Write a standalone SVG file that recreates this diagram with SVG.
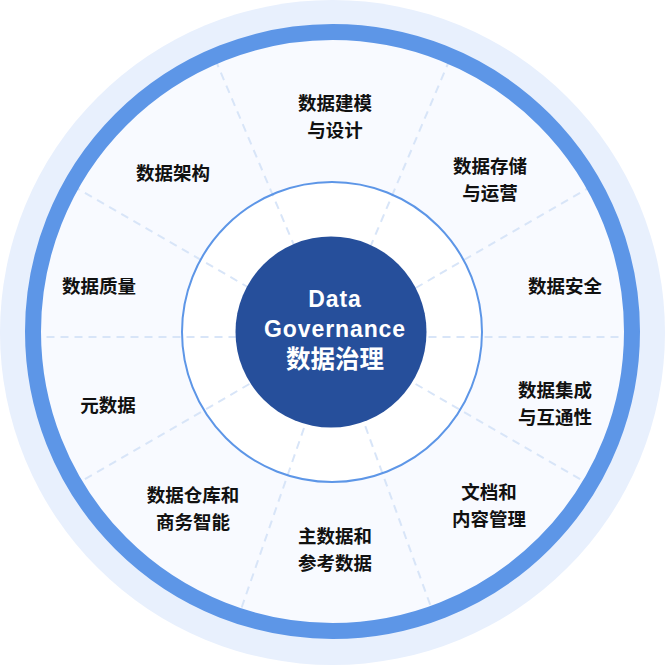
<svg xmlns="http://www.w3.org/2000/svg" width="665" height="665" viewBox="0 0 665 665">
  <style>
    .lbl { font-family: "Liberation Sans", "Noto Sans CJK SC", sans-serif; font-weight: bold; font-size: 18.5px; fill: #111111; text-anchor: middle; }
    .ctr { font-family: "Liberation Sans", "Noto Sans CJK SC", sans-serif; font-weight: bold; fill: #ffffff; text-anchor: middle; }
    .spoke { stroke: #D8E5F8; stroke-width: 2; stroke-dasharray: 8 6; fill: none; }
  </style>
  <g id="background">
    <circle cx="332.5" cy="332.5" r="332.5" fill="#E8F0FD"/>
    <circle cx="332.5" cy="332.5" r="300" fill="#F8FAFF"/>
    <circle cx="332" cy="332" r="150" fill="#FFFFFF"/>
  </g>
  <g id="connectors">
    <line class="spoke" x1="428.5" y1="337" x2="630.5" y2="337"/>
    <line class="spoke" x1="415.6" y1="288" x2="592" y2="186"/>
    <line class="spoke" x1="370" y1="247.6" x2="449.5" y2="60"/>
    <line class="spoke" x1="295" y1="247.6" x2="215.5" y2="60"/>
    <line class="spoke" x1="249.4" y1="288" x2="73" y2="186"/>
    <line class="spoke" x1="236.5" y1="337" x2="34.5" y2="337"/>
    <line class="spoke" x1="249.4" y1="384" x2="73" y2="486"/>
    <line class="spoke" x1="304" y1="428" x2="238" y2="618"/>
    <line class="spoke" x1="365.3" y1="426.2" x2="435" y2="618"/>
    <line class="spoke" x1="415.6" y1="384" x2="592" y2="486"/>
  </g>
  <g id="rings">
    <circle cx="332.5" cy="331.5" r="299.5" fill="none" stroke="#5D96E7" stroke-width="16"/>
    <circle cx="332" cy="332" r="150" fill="none" stroke="#5D96E7" stroke-width="2"/>
  </g>
  <g id="center">
    <circle cx="331" cy="332" r="95.5" fill="#264F9B"/>
    <text class="ctr" x="335" y="307" font-size="23" letter-spacing="0.9">Data</text>
    <text class="ctr" x="335" y="337" font-size="23" letter-spacing="0.9">Governance</text>
    <text class="ctr" x="335" y="368" font-size="24.5">数据治理</text>
  </g>
  <g id="node-modeling">
    <text class="lbl" x="335" y="110">数据建模</text>
    <text class="lbl" x="335" y="137">与设计</text>
  </g>
  <g id="node-storage">
    <text class="lbl" x="490" y="173">数据存储</text>
    <text class="lbl" x="490" y="200">与运营</text>
  </g>
  <g id="node-security">
    <text class="lbl" x="565" y="293">数据安全</text>
  </g>
  <g id="node-integration">
    <text class="lbl" x="555" y="397">数据集成</text>
    <text class="lbl" x="555" y="424">与互通性</text>
  </g>
  <g id="node-document">
    <text class="lbl" x="489" y="499">文档和</text>
    <text class="lbl" x="489" y="526">内容管理</text>
  </g>
  <g id="node-master">
    <text class="lbl" x="335" y="543">主数据和</text>
    <text class="lbl" x="335" y="570">参考数据</text>
  </g>
  <g id="node-warehouse">
    <text class="lbl" x="193" y="502">数据仓库和</text>
    <text class="lbl" x="193" y="529">商务智能</text>
  </g>
  <g id="node-metadata">
    <text class="lbl" x="108" y="412">元数据</text>
  </g>
  <g id="node-quality">
    <text class="lbl" x="99" y="293">数据质量</text>
  </g>
  <g id="node-architecture">
    <text class="lbl" x="173" y="180">数据架构</text>
  </g>
</svg>
